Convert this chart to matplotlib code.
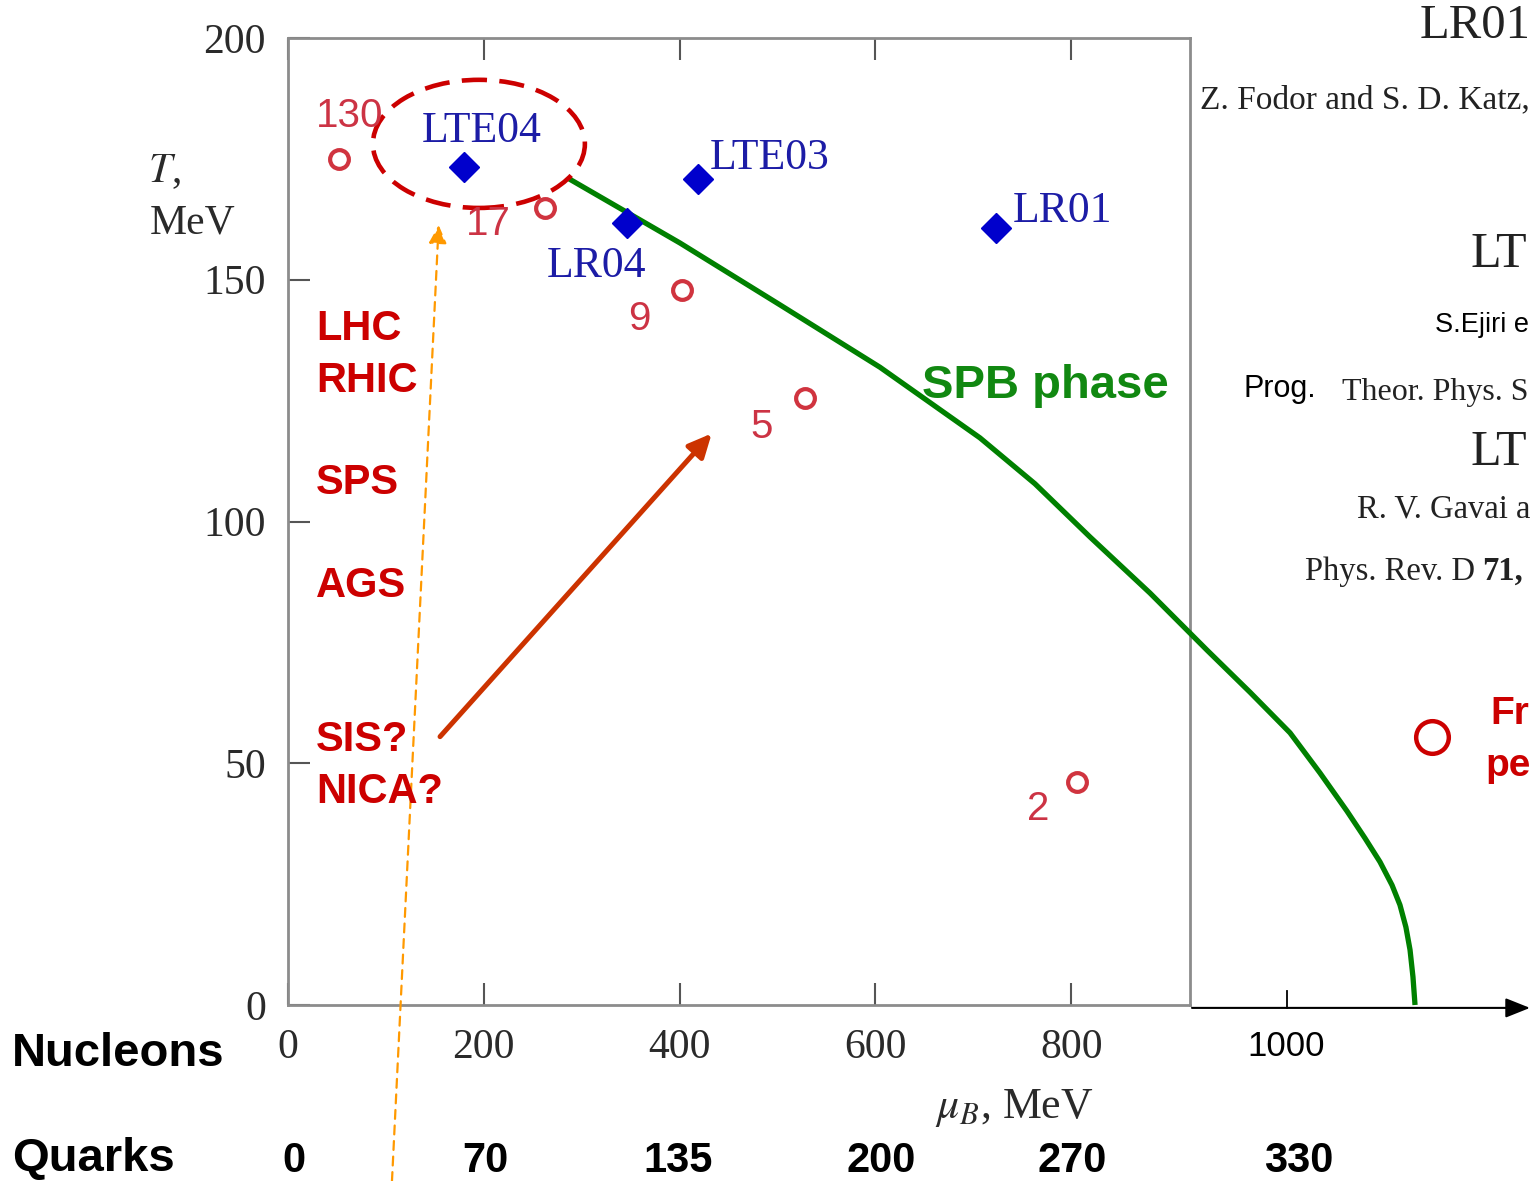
import matplotlib
matplotlib.use('Agg')
import matplotlib.pyplot as plt
from matplotlib.patches import Ellipse
from matplotlib import transforms

plt.rcParams['font.family'] = ['Liberation Serif', 'DejaVu Serif']
plt.rcParams['mathtext.fontset'] = 'stix'

# ---------------- data ----------------
freeze_labels = ['130', '17', '9', '5', '2']
freeze_mu = [52, 262.5, 402.5, 528, 806]
freeze_T = [175.0, 164.8, 147.9, 125.5, 46.1]

lattice_labels = ['LTE04', 'LTE03', 'LR04', 'LR01']
lattice_mu = [180, 419, 346, 723]
lattice_T = [173.3, 170.8, 161.7, 160.8]

spb_mu = [286.0, 400.4, 502.6, 604.7, 706.8, 763.0, 819.2, 880.5, 938.7,
          982.6, 1023.5, 1054.1, 1081.7, 1100.1, 1115.4, 1127.7, 1135.8,
          1141.9, 1146.1, 1149.1, 1151.2]
spb_T = [171.0, 157.6, 144.8, 131.9, 117.3, 107.8, 96.8, 85.2, 73.4,
         64.7, 56.3, 48.0, 40.1, 34.5, 29.6, 24.8, 20.7,
         16.1, 11.4, 5.8, 0.0]

accelerators = ['LHC', 'RHIC', 'SPS', 'AGS', 'SIS?', 'NICA?']
nucleon_ticks = [0, 200, 400, 600, 800]
extra_tick_label = '1000'
quark_labels = ['0', '70', '135', '200', '270', '330']
T_ticks = [0, 50, 100, 150, 200]

# ---------------- layout (positions, not data) ----------------
extra_tick_pos = 1020          # where the slide's extended axis puts "1000"
quark_dx = [6, 2, -2, 6, 1, 12]  # pixel nudges of the quark labels
freezeout_marker = (1168.5, 55.4)
ellipse_center = (195, 178.1)
ellipse_size = (216.5, 26.5)
orange_arrow = ((106.2, -36.4), (153.9, 161.3))
red_arrow = ((155.3, 55.5), (432.8, 118.2))

W, H = 1533, 1181
fig = plt.figure(figsize=(W / 100, H / 100), dpi=100)
fig.patch.set_facecolor('white')


def fx(px):
    return px / W


def fy(py):
    return 1 - py / H


ax = fig.add_axes([fx(288), fy(1005), fx(1190) - fx(288), fy(38) - fy(1005)])
ax.set_xlim(0, (1190 - 288) / 0.979)
ax.set_ylim(0, 200)

for s in ax.spines.values():
    s.set_color('#8c8c8c')
    s.set_linewidth(2)

ax.set_xticks(nucleon_ticks)
ax.set_yticks(T_ticks)
ax.tick_params(direction='in', length=16, width=1.5, color='#555555',
               top=True, right=False, labelsize=30, labelcolor='#2a2a2a')
ax.tick_params(axis='x', pad=17)
ax.tick_params(axis='y', pad=16)
for lbl in ax.get_xticklabels() + ax.get_yticklabels():
    lbl.set_fontfamily('Liberation Serif')

# SPB phase boundary
ax.plot(spb_mu, spb_T, color='#008000', lw=3.8, clip_on=False,
        solid_capstyle='butt', solid_joinstyle='round', zorder=3)

# freeze-out points
ax.plot(freeze_mu, freeze_T, 'o', mfc='none', mec='#d0343f', ms=13.5,
        mew=3, zorder=4)
# lattice points
ax.plot(lattice_mu, lattice_T, 'D', color='#0000cc', ms=15, zorder=4)

# dashed ellipse
ax.add_patch(Ellipse(ellipse_center, ellipse_size[0], ellipse_size[1],
                     fill=False, edgecolor='#cc0000', lw=3.3,
                     linestyle=(0, (5.5, 2.7)), clip_on=False, zorder=5))

# orange dashed arrow
ax.annotate('', xy=orange_arrow[1], xytext=orange_arrow[0],
            arrowprops=dict(arrowstyle='-|>,head_length=0.55,head_width=0.27',
                            color='#ff9900', lw=1.6, linestyle=(0, (4, 3)),
                            shrinkA=0, shrinkB=0, mutation_scale=20),
            annotation_clip=False, zorder=6)

# red arrow
ax.annotate('', xy=red_arrow[1], xytext=red_arrow[0],
            arrowprops=dict(arrowstyle='-|>,head_length=0.7,head_width=0.33',
                            color='#cc3300', lw=3.6,
                            shrinkA=0, shrinkB=0, mutation_scale=20),
            annotation_clip=False, zorder=6)

# extended mu axis with arrow
ax.annotate('', xy=(1268.6, -0.6), xytext=(923.4, -0.6),
            arrowprops=dict(arrowstyle='-|>,head_length=0.75,head_width=0.3',
                            color='black', lw=1.5, shrinkA=0, shrinkB=0,
                            mutation_scale=20),
            annotation_clip=False)
ax.plot([extra_tick_pos, extra_tick_pos], [-0.6, 2.8], color='black', lw=1.3,
        clip_on=False)

# freeze-out legend marker
ax.plot([freezeout_marker[0]], [freezeout_marker[1]], 'o', mfc='none',
        mec='#cc0000', ms=23.5, mew=3.2, clip_on=False)

# ---------------- texts ----------------
freeze_label_px = [(350, 127), (488, 235), (639, 330), (762, 438), (1038, 820)]
for t, (px, py) in zip(freeze_labels, freeze_label_px):
    fig.text(fx(px), fy(py), t, ha='center', va='baseline', fontsize=29,
             color='#cc3344', family='Liberation Sans')

lattice_label_px = [(422, 142), (710, 169), (547, 277), (1013, 222)]
for t, (px, py) in zip(lattice_labels, lattice_label_px):
    fig.text(fx(px), fy(py), t, ha='left', va='baseline', fontsize=31.5,
             color='#1c1ca6', family='Liberation Serif')

acc_baselines = [340, 392, 494, 597, 751, 803]
for t, py in zip(accelerators, acc_baselines):
    fig.text(fx(316), fy(py), t, ha='left', va='baseline', fontsize=30,
             color='#cc0000', family='Liberation Sans', fontweight='bold')

fig.text(fx(922), fy(398), 'SPB phase', ha='left', va='baseline', fontsize=34,
         color='#118811', family='Liberation Sans', fontweight='bold')

# axis labels
fig.text(fx(148), fy(182), r'$T$,', ha='left', va='baseline', fontsize=30,
         color='#2a2a2a')
fig.text(fx(150), fy(233), 'MeV', ha='left', va='baseline', fontsize=30,
         color='#2a2a2a', family='Liberation Serif')
fig.text(fx(935), fy(1118), r'$\mu_B$, MeV', ha='left', va='baseline',
         fontsize=31.5, color='#2a2a2a', family='Liberation Serif')

# 1000 label on the extended axis
blend = transforms.blended_transform_factory(ax.transData, fig.transFigure)
ax.text(extra_tick_pos, fy(1056), extra_tick_label, transform=blend,
        ha='center', va='baseline', fontsize=25, color='black',
        family='Liberation Sans', clip_on=False)

# Nucleons / Quarks rows
fig.text(fx(12), fy(1066), 'Nucleons', ha='left', va='baseline', fontsize=34,
         color='black', family='Liberation Sans', fontweight='bold')
fig.text(fx(12), fy(1171), 'Quarks', ha='left', va='baseline', fontsize=34,
         color='black', family='Liberation Sans', fontweight='bold')
quark_pos = nucleon_ticks + [extra_tick_pos]
for t, m, dx in zip(quark_labels, quark_pos, quark_dx):
    tr = transforms.offset_copy(blend, fig=fig, x=dx, y=0, units='dots')
    ax.text(m, fy(1172), t, transform=tr, ha='center', va='baseline',
            fontsize=30, color='black', family='Liberation Sans',
            fontweight='bold', clip_on=False)

# right-hand annotations (cut off by the slide edge in the original)
fig.text(fx(1420), fy(38), 'LR01', ha='left', va='baseline', fontsize=35,
         color='#222222', family='Liberation Serif')
fig.text(fx(1200), fy(108), 'Z. Fodor and S. D. Katz,', ha='left',
         va='baseline', fontsize=24, color='#222222', family='Liberation Serif')
fig.text(fx(1470), fy(267), 'LT', ha='left', va='baseline', fontsize=36,
         color='#222222', family='Liberation Serif')
fig.text(fx(1435), fy(332), 'S.Ejiri e', ha='left', va='baseline', fontsize=19.5,
         color='black', family='Liberation Sans')
fig.text(fx(1243), fy(397), 'Prog.', ha='left', va='baseline', fontsize=22,
         color='black', family='Liberation Sans')
fig.text(fx(1342), fy(400), 'Theor. Phys. S', ha='left', va='baseline',
         fontsize=23, color='#222222', family='Liberation Serif')
fig.text(fx(1470), fy(465), 'LT', ha='left', va='baseline', fontsize=36,
         color='#222222', family='Liberation Serif')
fig.text(fx(1357), fy(518), 'R. V. Gavai a', ha='left', va='baseline',
         fontsize=23.5, color='#222222', family='Liberation Serif')
fig.text(fx(1305), fy(580), 'Phys. Rev. D', ha='left', va='baseline',
         fontsize=23.5, color='#222222', family='Liberation Serif')
fig.text(fx(1482), fy(580), '71,', ha='left', va='baseline',
         fontsize=23.5, color='#222222', family='Liberation Serif',
         fontweight='bold')
fig.text(fx(1490), fy(724), 'Fr', ha='left', va='baseline', fontsize=28,
         color='#cc0000', family='Liberation Sans', fontweight='bold')
fig.text(fx(1485), fy(776), 'pe', ha='left', va='baseline', fontsize=28,
         color='#cc0000', family='Liberation Sans', fontweight='bold')

fig.savefig('out.png', dpi=100)
